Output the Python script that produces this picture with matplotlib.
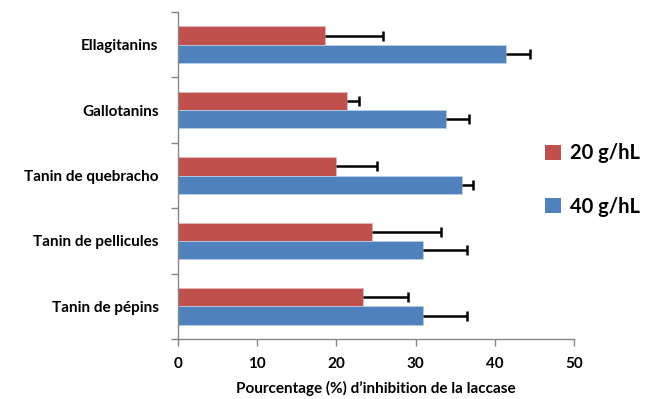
import matplotlib
matplotlib.use("Agg")
import matplotlib.pyplot as plt
import numpy as np
from matplotlib.patches import Patch

categories = ["Ellagitanins", "Gallotanins", "Tanin de quebracho", "Tanin de pellicules", "Tanin de pépins"]
series_names = ["20 g/hL", "40 g/hL"]
vals_20 = [18.5, 21.3, 20.0, 24.5, 23.3]
err_20 = [7.4, 1.6, 5.1, 8.7, 5.7]
vals_40 = [41.4, 33.9, 35.9, 31.0, 31.0]
err_40 = [3.1, 2.8, 1.3, 5.5, 5.5]
xticks = [0, 10, 20, 30, 40, 50]
xlabel = "Pourcentage (%) d\u2019inhibition de la laccase"

red = "#C0504D"
blue = "#4F81BD"

plt.rcParams['font.family'] = ['Lato', 'DejaVu Sans']

fig = plt.figure(figsize=(6.58, 3.99), dpi=100)
ax = fig.add_axes([0.2705, 0.150, 0.6018, 0.820])

y = np.arange(len(categories))
h = 0.28
ekw = dict(ecolor="black", elinewidth=1.8, capsize=3.5, capthick=1.8)
b1 = ax.barh(y - h/2, vals_20, height=h, color=red, edgecolor="#e6b8b7", linewidth=0.6,
             xerr=[np.zeros(len(err_20)), err_20], error_kw=ekw, zorder=2)
b2 = ax.barh(y + h/2, vals_40, height=h, color=blue, edgecolor="#b9cde5", linewidth=0.6,
             xerr=[np.zeros(len(err_40)), err_40], error_kw=ekw, zorder=2)
for b in (b1, b2):
    caps = b.errorbar.lines[1]
    if len(caps) >= 2:
        caps[0].set_visible(False)

ax.set_ylim(len(categories) - 0.5, -0.5)
ax.set_xlim(0, 50)
ax.set_xticks(xticks)
ax.set_xticklabels([str(t) for t in xticks], fontsize=11, fontweight="bold")
ax.set_yticks(y)
ax.set_yticklabels(categories, fontsize=11, fontweight="bold")
ax.tick_params(axis="y", length=0, pad=14)
ax.set_yticks(np.arange(len(categories) + 1) - 0.5, minor=True)
ax.tick_params(axis="y", which="minor", length=5, color="#868686", width=1)
ax.tick_params(axis="x", length=5, color="#868686", width=1, pad=8)
for s in ["top", "right"]:
    ax.spines[s].set_visible(False)
for s in ["left", "bottom"]:
    ax.spines[s].set_color("#868686")
    ax.spines[s].set_linewidth(1)
ax.set_xlabel(xlabel, fontsize=11, fontweight="bold", labelpad=7)

handles = [Patch(facecolor=red), Patch(facecolor=blue)]
fig.legend(handles, series_names, loc="center left", bbox_to_anchor=(0.800, 0.549),
           frameon=False, prop=dict(weight="bold", size=14.5), handlelength=0.8,
           handleheight=0.8, labelspacing=1.65, handletextpad=0.45)

fig.savefig("out.png", dpi=100)
